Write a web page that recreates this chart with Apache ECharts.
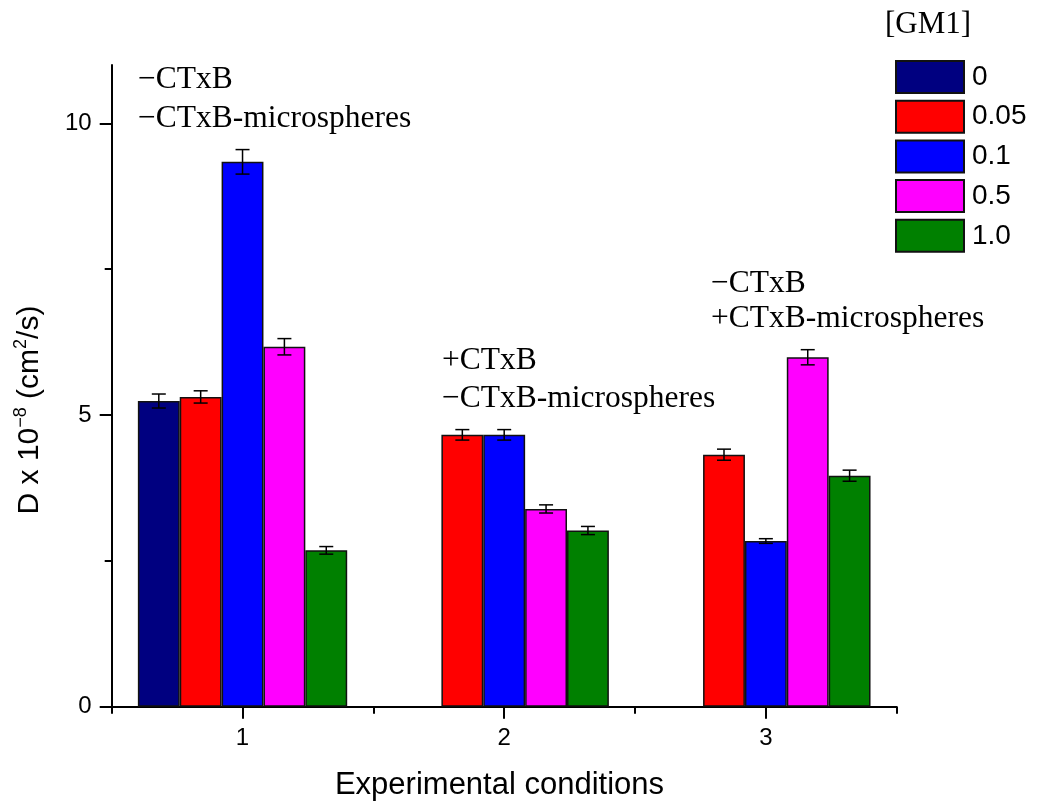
<!DOCTYPE html>
<html>
<head>
<meta charset="utf-8">
<script src="https://cdn.jsdelivr.net/npm/echarts@6/dist/echarts.min.js"></script>
<style>html,body{margin:0;padding:0;background:#fff}#c{width:1037px;height:802px}</style>
</head>
<body>
<div id="c"></div>
<script>
const categories = ['1', '2', '3'];
const xTickValues = [1, 2, 3];
const seriesNames = ['0', '0.05', '0.1', '0.5', '1.0'];
const gm0   = [5.24, null, null];
const gm005 = [5.31, 4.66, 4.32];
const gm01  = [9.34, 4.66, 2.84];
const gm05  = [6.17, 3.39, 5.99];
const gm10  = [2.68, 3.02, 3.96];
const err0   = [0.12, null, null];
const err005 = [0.105, 0.09, 0.095];
const err01  = [0.21, 0.09, 0.04];
const err05  = [0.14, 0.07, 0.13];
const err10  = [0.065, 0.07, 0.095];
const yTickValues = [0, 5, 10];
const yMinorTickValues = [2.5, 7.5];
const colors = ['#000080', '#ff0000', '#0000ff', '#ff00ff', '#008000'];

const values = [gm0, gm005, gm01, gm05, gm10];
const errors = [err0, err005, err01, err05, err10];
const nSeries = values.length;
const catGap = 0.2;

const errData = [];
values.forEach((arr, s) => arr.forEach((v, i) => {
  if (v != null) errData.push([i, v, errors[s][i], s]);
}));

const chart = echarts.init(document.getElementById('c'), null, {renderer: 'canvas'});
const serif = '"Liberation Serif", "Times New Roman", serif';
const sans = 'Arial, "Liberation Sans", sans-serif';

function renderErr(params, api) {
  const ci = api.value(0), v = api.value(1), e = api.value(2), si = api.value(3);
  const bandW = api.size([1, 0])[0];
  const barW = bandW * (1 - catGap) / nSeries;
  const cx = api.coord([ci, v])[0] + (si - (nSeries - 1) / 2) * barW;
  const yHi = api.coord([ci, v + e])[1];
  const yLo = api.coord([ci, v - e])[1];
  const h = 7;
  const st = {stroke: '#000', lineWidth: 1.5};
  return {type: 'group', children: [
    {type: 'line', shape: {x1: cx, y1: yHi, x2: cx, y2: yLo}, style: st},
    {type: 'line', shape: {x1: cx - h, y1: yHi, x2: cx + h, y2: yHi}, style: st},
    {type: 'line', shape: {x1: cx - h, y1: yLo, x2: cx + h, y2: yLo}, style: st}
  ]};
}

const series = values.map((arr, s) => ({
  name: seriesNames[s],
  type: 'bar',
  xAxisIndex: 0,
  yAxisIndex: 0,
  data: arr,
  barGap: '0%',
  barCategoryGap: (catGap * 100) + '%',
  itemStyle: {color: colors[s], borderColor: '#111', borderWidth: 1.5},
  emphasis: {disabled: true},
  animation: false
}));
series.push({
  type: 'custom',
  xAxisIndex: 0,
  yAxisIndex: 0,
  data: errData,
  encode: {x: 0, y: 1},
  renderItem: renderErr,
  z: 5,
  animation: false,
  silent: true
});

const txt = (t, x, y, size, font) => ({
  type: 'text', x: x, y: y, silent: true,
  style: {text: t, fontSize: size, fontFamily: font || serif, fill: '#000', align: 'left', verticalAlign: 'middle'}
});

chart.setOption({
  animation: false,
  grid: {left: 111.7, right: 140.3, top: 65, bottom: 95.3, containLabel: false},
  legend: {
    orient: 'vertical', left: 895, top: 60, padding: 0,
    itemWidth: 68, itemHeight: 32, itemGap: 5.7, icon: 'rect',
    selectedMode: false,
    textStyle: {fontSize: 28, fontFamily: sans, color: '#000', padding: [0, 0, 0, 3]},
    data: seriesNames
  },
  xAxis: [{
    type: 'category', data: categories, position: 'bottom', boundaryGap: true,
    axisLine: {show: true, lineStyle: {color: '#000', width: 2}},
    axisTick: {show: true, length: 7, lineStyle: {color: '#000', width: 2}},
    axisLabel: {show: false},
    splitLine: {show: false}
  }, {
    type: 'value', min: 0.5, max: 3.5, position: 'bottom',
    axisLine: {show: false},
    axisTick: {show: true, length: 12, customValues: xTickValues, lineStyle: {color: '#000', width: 2}},
    axisLabel: {show: true, customValues: xTickValues, fontSize: 24, fontFamily: sans, color: '#000', margin: 20},
    splitLine: {show: false}
  }],
  yAxis: [{
    type: 'value', min: 0, max: 11, position: 'left',
    axisLine: {show: true, lineStyle: {color: '#000', width: 2}},
    axisTick: {show: true, length: 12, customValues: yTickValues, lineStyle: {color: '#000', width: 2}},
    axisLabel: {show: true, customValues: yTickValues, fontSize: 24, fontFamily: sans, color: '#000', margin: 20},
    splitLine: {show: false}
  }, {
    type: 'value', min: 0, max: 11, position: 'left',
    axisLine: {show: false},
    axisTick: {show: true, length: 7, customValues: yMinorTickValues, lineStyle: {color: '#000', width: 2}},
    axisLabel: {show: false},
    splitLine: {show: false}
  }],
  series: series,
  graphic: [
    txt('[GM1]', 885, 25, 31),
    txt('\u2212CTxB', 138, 80, 31.5),
    txt('\u2212CTxB-microspheres', 138, 119, 31.5),
    txt('+CTxB', 442, 361, 31.5),
    txt('\u2212CTxB-microspheres', 442, 399, 31.5),
    txt('\u2212CTxB', 711, 284, 31.5),
    txt('+CTxB-microspheres', 711, 319, 31.5),
    {
      type: 'text', x: 499.5, y: 785, silent: true,
      style: {text: 'Experimental conditions', fontSize: 31, fontFamily: sans, fill: '#000', align: 'center', verticalAlign: 'middle'}
    },
    {
      type: 'text', x: 30, y: 410, rotation: Math.PI / 2, silent: true,
      style: {
        text: '{n|D x 10}{s|\u22128}{n| (cm}{s|2}{n|/s)}',
        align: 'center', verticalAlign: 'middle', fill: '#000',
        rich: {
          n: {fontSize: 30, fontFamily: sans, fill: '#000', lineHeight: 36, verticalAlign: 'middle'},
          s: {fontSize: 18, fontFamily: sans, fill: '#000', lineHeight: 18, verticalAlign: 'top'}
        }
      }
    }
  ]
});
</script>
</body>
</html>
